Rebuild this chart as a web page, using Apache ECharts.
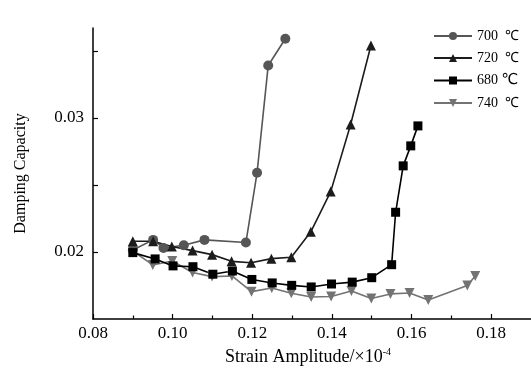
<!DOCTYPE html>
<html>
<head>
<meta charset="utf-8">
<script src="https://cdn.jsdelivr.net/npm/echarts@6/dist/echarts.min.js"></script>
<style>html,body{margin:0;padding:0;background:#fff;}#c{width:531px;height:374px;}</style>
</head>
<body>
<div id="c"></div>
<script>
const seriesNames = ['700 ℃', '720 ℃', '680 ℃', '740 ℃'];
const x700 = [0.090, 0.0951, 0.0977, 0.1028, 0.1080, 0.1184, 0.1212, 0.1240, 0.1283];
const y700 = [0.02015, 0.0209, 0.0203, 0.0205, 0.0209, 0.0207, 0.0259, 0.0339, 0.0359];
const x720 = [0.090, 0.0951, 0.0998, 0.1050, 0.1099, 0.1148, 0.1197, 0.1248, 0.1298, 0.1347, 0.1397, 0.1447, 0.1498];
const y720 = [0.0208, 0.0208, 0.0204, 0.0201, 0.0198, 0.0193, 0.0192, 0.0195, 0.0196, 0.0215, 0.0245, 0.0295, 0.0354];
const x680 = [0.090, 0.0956, 0.1001, 0.1051, 0.1101, 0.1150, 0.1199, 0.1250, 0.1299, 0.1348, 0.1399, 0.1451, 0.1500, 0.1550, 0.1560, 0.1579, 0.1598, 0.1616];
const y680 = [0.01995, 0.01948, 0.01896, 0.0189, 0.01834, 0.01858, 0.01795, 0.01769, 0.01751, 0.01739, 0.01761, 0.01775, 0.01808, 0.01905, 0.02296, 0.02642, 0.02791, 0.0294];
const x740 = [0.090, 0.0950, 0.0999, 0.1050, 0.1099, 0.1149, 0.1198, 0.1249, 0.1298, 0.1348, 0.1398, 0.1449, 0.1499, 0.1547, 0.1595, 0.1642, 0.1740, 0.1760];
const y740 = [0.02007, 0.01903, 0.01933, 0.01847, 0.01816, 0.01821, 0.01704, 0.01731, 0.01692, 0.01664, 0.01668, 0.01709, 0.01653, 0.01687, 0.01694, 0.01642, 0.0175, 0.01821];
const xMajorTicks = [0.08, 0.10, 0.12, 0.14, 0.16, 0.18];
const xMinorTicks = [0.09, 0.11, 0.13, 0.15, 0.17];
const yTicks = [0.02, 0.025, 0.03, 0.035];
const yLabels = [0.02, 0.03];

const zip = (xs, ys) => xs.map((x, i) => [x, ys[i]]);
const serif = 'Liberation Serif, Times New Roman, serif';

const chart = echarts.init(document.getElementById('c'), null, {renderer: 'canvas'});
const mk = (name, xs, ys, color, symbol, size, rot) => ({
  name, type: 'line', xAxisIndex: 0, yAxisIndex: 0,
  data: zip(xs, ys),
  symbol, symbolSize: size, symbolRotate: rot || 0,
  showAllSymbol: true,
  lineStyle: {color, width: 1.6},
  itemStyle: {color, borderWidth: 0},
  emphasis: {disabled: true},
  animation: false
});

chart.setOption({
  animation: false,
  backgroundColor: '#fff',
  grid: {left: 93, top: 28, width: 442, height: 291, containLabel: false},
  legend: {
    orient: 'vertical', left: 428, top: 24,
    itemWidth: 38, itemHeight: 10, itemGap: 8,
    data: seriesNames,
    textStyle: {
      fontFamily: serif, fontSize: 14, color: '#000',
      rich: {
        c: {fontFamily: serif, fontSize: 14, color: '#000'},
        cb: {fontFamily: 'DejaVu Sans, sans-serif', fontSize: 15, color: '#000'}
      }
    },
    formatter: n => n.startsWith('680') ? '680 {cb|℃}' : n.replace(' ℃', '  {c|℃}')
  },
  xAxis: [{
    type: 'value', min: 0.08, max: 0.19,
    name: 'Strain Amplitude/×10{sup|-4}', nameLocation: 'middle', nameGap: 20,
    nameTextStyle: {fontFamily: serif, fontSize: 18, color: '#000', padding: [0, 0, 0, -8],
      rich: {sup: {fontFamily: serif, fontSize: 10, color: '#000', verticalAlign: 'top', padding: [0, 0, 10, 0]}}},
    axisLine: {show: true, lineStyle: {color: '#000', width: 1.5}},
    axisTick: {show: true, inside: true, length: 5, customValues: xMajorTicks, lineStyle: {color: '#000', width: 1.2}},
    axisLabel: {show: true, customValues: xMajorTicks, formatter: v => v.toFixed(2), fontFamily: serif, fontSize: 17, color: '#000', margin: 6},
    splitLine: {show: false}
  }, {
    type: 'value', min: 0.08, max: 0.19, position: 'bottom',
    axisLine: {show: false},
    axisTick: {show: true, inside: true, length: 3.5, customValues: xMinorTicks, lineStyle: {color: '#000', width: 1.2}},
    axisLabel: {show: false},
    splitLine: {show: false}
  }],
  yAxis: {
    type: 'value', min: 0.015, max: 0.0367,
    name: 'Damping Capacity', nameLocation: 'middle', nameGap: 64, nameRotate: 90,
    nameTextStyle: {fontFamily: serif, fontSize: 16, color: '#000'},
    axisLine: {show: true, lineStyle: {color: '#000', width: 1.5}},
    axisTick: {show: true, inside: true, length: 5, customValues: yTicks, lineStyle: {color: '#000', width: 1.2}},
    axisLabel: {show: true, customValues: yLabels, formatter: v => v.toFixed(2), fontFamily: serif, fontSize: 17, color: '#000', margin: 9},
    splitLine: {show: false}
  },
  series: [
    mk('740 ℃', x740, y740, '#737373', 'triangle', 10, 180),
    mk('700 ℃', x700, y700, '#565656', 'circle', 10),
    mk('720 ℃', x720, y720, '#1c1c1c', 'triangle', 10),
    mk('680 ℃', x680, y680, '#000000', 'rect', 9)
  ]
});
</script>
</body>
</html>
